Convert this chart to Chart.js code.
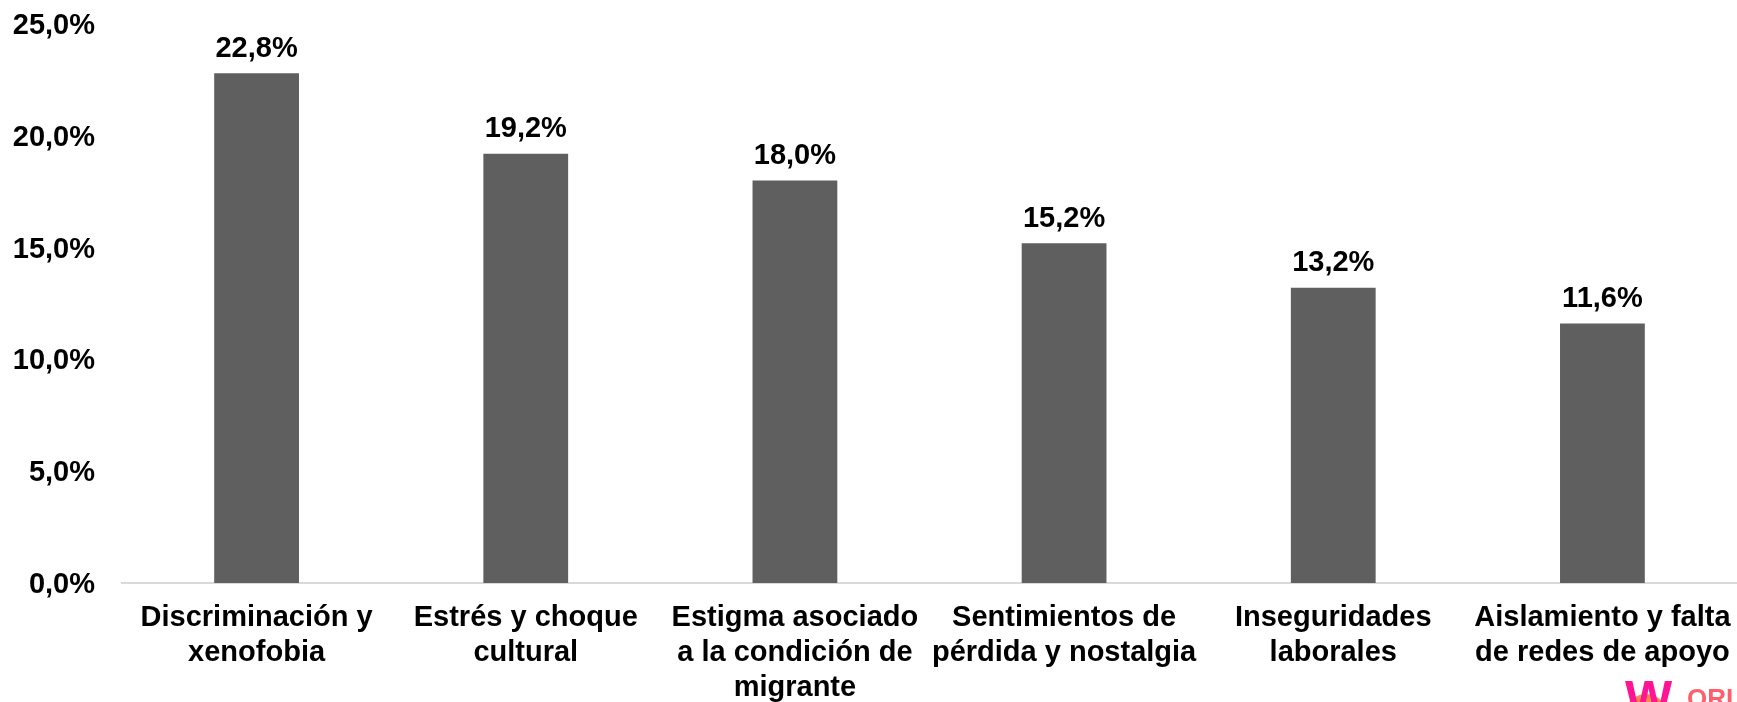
<!DOCTYPE html>
<html>
<head>
<meta charset="utf-8">
<script src="https://cdn.jsdelivr.net/npm/chart.js@4"></script>
<style>
  html, body { margin: 0; padding: 0; background: #fff; }
  #wrap { width: 1737px; height: 702px; position: relative; }
</style>
</head>
<body>
<div id="wrap"><canvas id="chart"></canvas></div>
<script>
const categories = [
    ['Discriminación y', 'xenofobia'],
    ['Estrés y choque', 'cultural'],
    ['Estigma asociado', 'a la condición de', 'migrante'],
    ['Sentimientos de', 'pérdida y nostalgia'],
    ['Inseguridades', 'laborales'],
    ['Aislamiento y falta', 'de redes de apoyo']
];
const values = [22.8, 19.2, 18.0, 15.2, 13.2, 11.6];
const yTicks = [0, 5, 10, 15, 20, 25];

const FONT = '"Liberation Sans", Arial, sans-serif';

function pct(v) {
    return v.toFixed(1).replace('.', ',') + '%';
}

// value labels above each bar
const barLabels = {
    id: 'barLabels',
    afterDatasetsDraw(chart) {
        const ctx = chart.ctx;
        const meta = chart.getDatasetMeta(0);
        ctx.save();
        ctx.font = 'bold 29px ' + FONT;
        ctx.fillStyle = '#000';
        ctx.textAlign = 'center';
        ctx.textBaseline = 'bottom';
        meta.data.forEach((bar, i) => {
            ctx.fillText(pct(values[i]), bar.x, bar.y - 10);
        });
        ctx.restore();
    }
};

// cut-off logo in the corner
const logo = {
    id: 'logo',
    afterDraw(chart) {
        const ctx = chart.ctx;
        ctx.save();
        ctx.fillStyle = '#ff8a4c';
        ctx.beginPath();
        ctx.arc(1646, 716, 22, 0, Math.PI * 2);
        ctx.fill();
        ctx.fillStyle = '#ff1493';
        ctx.textBaseline = 'alphabetic';
        ctx.font = 'bold 50px ' + FONT;
        ctx.fillText('W', 1625, 716);
        ctx.fillStyle = '#ff5f6d';
        ctx.font = 'bold 26px ' + FONT;
        ctx.fillText('ORL', 1687, 707);
        ctx.restore();
    }
};

new Chart(document.getElementById('chart'), {
    type: 'bar',
    data: {
        labels: categories,
        datasets: [{
            data: values,
            backgroundColor: '#5f5f5f',
            barPercentage: 0.63,
            categoryPercentage: 0.5
        }]
    },
    options: {
        responsive: true,
        maintainAspectRatio: false,
        animation: false,
        layout: { padding: { top: 24, right: 0, left: 0, bottom: 0 } },
        plugins: {
            legend: { display: false },
            tooltip: { enabled: false }
        },
        scales: {
            y: {
                min: 0,
                max: 25,
                afterBuildTicks(axis) {
                    axis.ticks = yTicks.map(v => ({ value: v }));
                },
                afterFit(axis) {
                    axis.width = 122;
                    axis.paddingTop = 0;
                    axis.paddingBottom = 0;
                },
                grid: { display: false, drawTicks: false },
                border: { display: false },
                ticks: {
                    padding: 27,
                    labelOffset: 2,
                    color: '#000',
                    font: { family: FONT, size: 29, weight: 'bold' },
                    callback: v => pct(v)
                }
            },
            x: {
                afterFit(axis) {
                    axis.height = 119;
                    axis.paddingLeft = 0;
                    axis.paddingRight = 0;
                },
                grid: { display: false, drawTicks: false },
                border: { display: true, color: '#d9d9d9', width: 2 },
                ticks: {
                    padding: 18,
                    maxRotation: 0,
                    autoSkip: false,
                    color: '#000',
                    font: { family: FONT, size: 29, weight: 'bold', lineHeight: 1.2 }
                }
            }
        }
    },
    plugins: [barLabels, logo]
});
</script>
</body>
</html>
